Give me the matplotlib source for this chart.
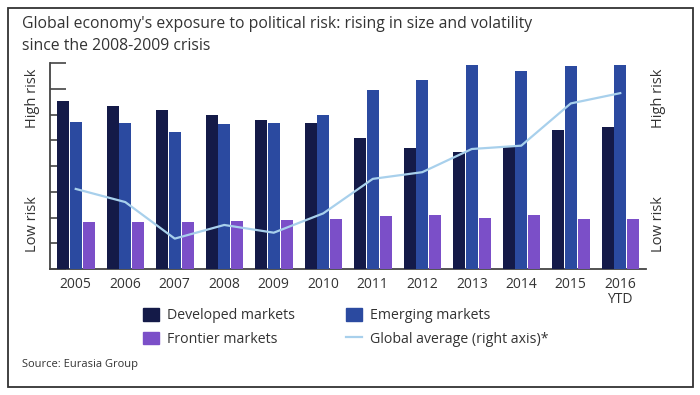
import numpy as np
import matplotlib
matplotlib.use("Agg")
import matplotlib.pyplot as plt
from matplotlib.patches import Rectangle, Patch
from matplotlib.lines import Line2D

plt.rcParams['font.family'] = ['Open Sans', 'DejaVu Sans']

years = ['2005', '2006', '2007', '2008', '2009', '2010', '2011', '2012',
         '2013', '2014', '2015', '2016\nYTD']
developed = [6.52, 6.34, 6.16, 6.00, 5.79, 5.66, 5.07, 4.69, 4.56, 4.73, 5.40, 5.50]
emerging = [5.70, 5.66, 5.32, 5.62, 5.66, 6.00, 6.95, 7.33, 7.92, 7.68, 7.87, 7.92]
frontier = [1.83, 1.83, 1.83, 1.88, 1.90, 1.95, 2.05, 2.08, 1.99, 2.08, 1.95, 1.95]
global_avg = [3.11, 2.60, 1.18, 1.71, 1.41, 2.16, 3.50, 3.76, 4.66, 4.79, 6.43, 6.83]

c_dev = '#141a48'
c_emg = '#2b4aa0'
c_fro = '#7b4fc8'
c_line = '#a8d0ec'
txt = '#333333'

fig = plt.figure(figsize=(7, 3.95), dpi=100)
ax = fig.add_axes([50 / 700, 1 - 269 / 395, 596 / 700, 206 / 395])
x = np.arange(len(years))
w = 0.24
ax.bar(x - 0.25, developed, w, color=c_dev, zorder=3)
ax.bar(x, emerging, w, color=c_emg, zorder=3)
ax.bar(x + 0.265, frontier, w, color=c_fro, zorder=3)

ax.set_xlim(-0.52, 11.52)
ax.set_ylim(0, 8)
ax.set_yticks(np.arange(0, 9, 1))
ax.set_yticklabels([])
ax.tick_params(axis='y', direction='in', length=11.5, width=1.2, color='#444444')
ax.set_xticks(x)
ax.set_xticklabels(years, fontsize=10, color=txt, linespacing=0.95)
ax.tick_params(axis='x', length=0, pad=6)
for s in ['top', 'right']:
    ax.spines[s].set_visible(False)
for s in ['left', 'bottom']:
    ax.spines[s].set_color('#444444')
    ax.spines[s].set_linewidth(1.3)

ax2 = ax.twinx()
ax2.plot(x, global_avg, color=c_line, lw=1.6, zorder=4)
ax2.set_ylim(0, 8)
ax2.set_yticks([])
for s in ax2.spines.values():
    s.set_visible(False)

# risk labels
for xp in [32, 658]:
    fig.text(xp / 700, 1 - 98 / 395, 'High risk', rotation=90, ha='center', va='center',
             fontsize=10.5, color=txt)
    fig.text(xp / 700, 1 - 224 / 395, 'Low risk', rotation=90, ha='center', va='center',
             fontsize=10.5, color=txt)

fig.text(22 / 700, 1 - 16 / 395,
         "Global economy's exposure to political risk: rising in size and volatility\n"
         "since the 2008-2009 crisis",
         ha='left', va='top', fontsize=11.3, color=txt, linespacing=1.5)

handles = [Patch(color=c_dev), Patch(color=c_fro), Patch(color=c_emg),
           Line2D([0], [0], color=c_line, lw=1.6)]
labels = ['Developed markets', 'Frontier markets', 'Emerging markets',
          'Global average (right axis)*']
fig.legend(handles, labels, ncol=2, loc='upper left',
           bbox_to_anchor=(143 / 700, 1 - 308 / 395), frameon=False,
           fontsize=10.2, handlelength=1.1, handleheight=1.0, handletextpad=0.6,
           columnspacing=3.6, labelspacing=0.6, borderpad=0, borderaxespad=0,
           labelcolor=txt)

fig.text(22 / 700, 1 - 365 / 395, 'Source: Eurasia Group', ha='left', va='center',
         fontsize=8, color=txt)

fig.patches.append(Rectangle((8 / 700, 1 - 387 / 395), 685 / 700, 379 / 395,
                             transform=fig.transFigure, fill=False,
                             edgecolor='#333333', lw=1.3))

fig.savefig('out.png', dpi=100)
